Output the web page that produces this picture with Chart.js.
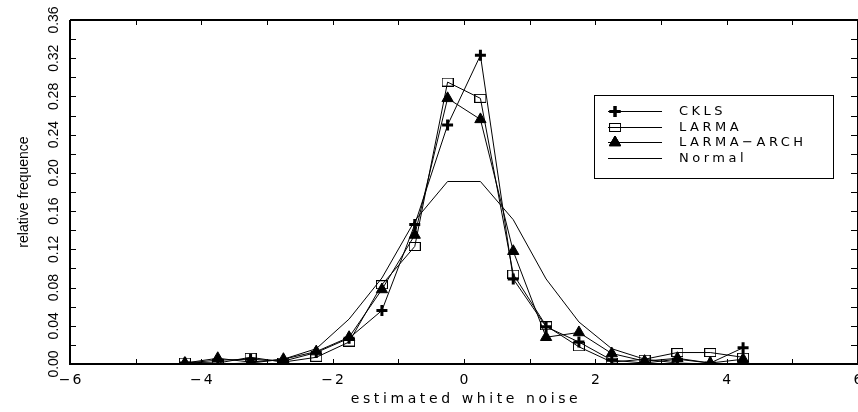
<!DOCTYPE html>
<html>
<head>
<meta charset="utf-8">
<script src="https://cdn.jsdelivr.net/npm/chart.js@4/dist/chart.umd.min.js"></script>
<style>
html,body{margin:0;padding:0;background:#fff;overflow:hidden;}
#wrap{width:858px;height:412px;overflow:hidden;}
#c{display:block;}
</style>
</head>
<body>
<div id="wrap"><canvas id="c" width="858" height="412"></canvas></div>
<script>
// ---- data ----
const binCenters = [-4.25,-3.75,-3.25,-2.75,-2.25,-1.75,-1.25,-0.75,-0.25,0.25,0.75,1.25,1.75,2.25,2.75,3.25,3.75,4.25];
const ckls      = [0.001,0.004,0.005,0.003,0.012,0.027,0.056,0.146,0.250,0.323,0.089,0.039,0.023,0.004,0.001,0.005,0.001,0.017];
const larma     = [0.002,0.001,0.007,0.002,0.007,0.023,0.083,0.123,0.295,0.278,0.094,0.040,0.018,0.002,0.005,0.012,0.012,0.007];
const larmaArch = [0.001,0.006,0.002,0.005,0.013,0.028,0.078,0.135,0.278,0.256,0.118,0.028,0.033,0.011,0.003,0.006,0.001,0.005];
const normal    = [0.000,0.000,0.001,0.005,0.016,0.047,0.090,0.150,0.191,0.191,0.151,0.089,0.044,0.016,0.005,0.001,0.000,0.000];
const seriesNames = ['CKLS','LARMA','LARMA\u2212ARCH','Normal'];
const xTickValues = [-6,-4,-2,0,2,4,6];
const yTickValues = [0,0.04,0.08,0.12,0.16,0.20,0.24,0.28,0.32,0.36];
const xTitle = 'estimated white noise';
const yTitle = 'relative frequence';

// open rectangle marker
function makeRectMarker(){
  const c = document.createElement('canvas');
  c.width = 12; c.height = 9;
  const g = c.getContext('2d');
  g.strokeStyle = '#000'; g.lineWidth = 1;
  g.strokeRect(0.5, 0.5, 11, 8);
  return c;
}
const rectMarker = makeRectMarker();

function pts(arr){ return binCenters.map((x,i)=>({x:x,y:arr[i]})); }

const styles = [
  {pointStyle:'cross', radius:5.5, bw:3},
  {pointStyle:rectMarker, radius:6, bw:1},
  {pointStyle:'triangle', radius:6.5, bw:1},
  {pointStyle:false, radius:0, bw:1}
];
const dataArrays = [ckls, larma, larmaArch, normal];

const datasets = dataArrays.map((arr,i)=>({
  label: seriesNames[i],
  data: pts(arr),
  borderColor:'#000',
  backgroundColor:'#000',
  borderWidth:1,
  pointStyle: styles[i].pointStyle,
  pointRadius: styles[i].radius,
  pointBorderWidth: styles[i].bw,
  pointBorderColor:'#000',
  pointBackgroundColor:'#000',
  tension:0,
  fill:false
}));

function setLS(ctx, v){ try { ctx.letterSpacing = v; } catch(e){} }

const decor = {
  id:'decor',
  afterDraw(chart){
    const ctx = chart.ctx, a = chart.chartArea;
    const xs = chart.scales.x, ys = chart.scales.y;
    ctx.save();
    ctx.strokeStyle = '#000';
    // ticks
    ctx.lineWidth = 1;
    ctx.beginPath();
    for (let k=0;k<=18;k++){
      const v = k*0.02;
      const py = Math.round(ys.getPixelForValue(v))+0.5;
      ctx.moveTo(a.left, py); ctx.lineTo(a.left+6, py);
      ctx.moveTo(a.right-7, py); ctx.lineTo(a.right, py);
    }
    for (let v=-6; v<=6; v++){
      const px = Math.round(xs.getPixelForValue(v))+0.5;
      ctx.moveTo(px, a.bottom); ctx.lineTo(px, a.bottom-5);
      ctx.moveTo(px, a.top); ctx.lineTo(px, a.top+5);
    }
    ctx.stroke();
    // frame
    ctx.lineWidth = 2;
    ctx.beginPath();
    ctx.moveTo(a.left, a.top); ctx.lineTo(a.right, a.top);
    ctx.moveTo(a.left, a.top); ctx.lineTo(a.left, a.bottom);
    ctx.moveTo(a.left-1, a.bottom); ctx.lineTo(a.right, a.bottom);
    ctx.moveTo(a.right, a.top); ctx.lineTo(a.right, a.bottom);
    ctx.stroke();

    ctx.fillStyle = '#000';
    // y tick labels (rotated)
    ctx.font = '14px "Liberation Sans", Arial, sans-serif';
    ctx.textAlign = 'center'; ctx.textBaseline = 'middle';
    yTickValues.forEach(v=>{
      const py = ys.getPixelForValue(v);
      ctx.save(); ctx.translate(54, py); ctx.rotate(-Math.PI/2);
      ctx.fillText(v.toFixed(2), 0, 0);
      ctx.restore();
    });
    // y title
    ctx.save(); ctx.translate(24, (a.top+a.bottom)/2); ctx.rotate(-Math.PI/2);
    ctx.font = '14px "Liberation Sans", Arial, sans-serif';
    ctx.fillText(yTitle, 0, 0);
    ctx.restore();
    // x tick labels
    ctx.font = '14px "DejaVu Sans", sans-serif';
    setLS(ctx, '2px');
    xTickValues.forEach(v=>{
      const px = xs.getPixelForValue(v);
      const t = v<0 ? '\u2212' + Math.abs(v) : String(v);
      ctx.fillText(t, px+1, a.bottom+16);
    });
    // x title
    setLS(ctx, '3.6px');
    ctx.fillText(xTitle, (a.left+a.right)/2 + 2, a.bottom+35);
    setLS(ctx, '0px');

    // legend (positioned in data coordinates)
    const lx0 = xs.getPixelForValue(1.98), lx1 = xs.getPixelForValue(5.62);
    const ly0 = ys.getPixelForValue(0.282), ly1 = ys.getPixelForValue(0.195);
    ctx.lineWidth = 1;
    ctx.strokeRect(Math.round(lx0)+0.5, Math.round(ly0)+0.5, Math.round(lx1-lx0), Math.round(ly1-ly0));
    const rowH = (ly1-ly0)/5.2;
    chart.data.datasets.forEach((ds,i)=>{
      const yy = Math.round(ly0 + rowH*(1+i))+0.5;
      const sx0 = lx0+14, sx1 = lx0+68;
      ctx.lineWidth = 1;
      ctx.strokeStyle = '#000';
      ctx.beginPath(); ctx.moveTo(sx0, yy); ctx.lineTo(sx1, yy); ctx.stroke();
      if (ds.pointStyle){
        ctx.lineWidth = ds.pointBorderWidth;
        ctx.fillStyle='#000'; ctx.strokeStyle='#000';
        Chart.helpers.drawPoint(ctx, {pointStyle: ds.pointStyle, radius: ds.pointRadius, borderWidth: ds.pointBorderWidth}, sx0+7, yy);
        if (ds.pointStyle==='triangle'){ ctx.fill(); ctx.stroke(); }
        else if (ds.pointStyle==='cross'){ ctx.stroke(); }
      }
      ctx.fillStyle = '#000';
      ctx.font = '13px "DejaVu Sans", sans-serif';
      setLS(ctx, '3.5px');
      ctx.textAlign = 'left'; ctx.textBaseline = 'middle';
      ctx.fillText(ds.label, lx0+85, yy+0.5);
      setLS(ctx, '0px');
    });
    ctx.restore();
  }
};

new Chart(document.getElementById('c'), {
  type:'line',
  data:{datasets:datasets},
  options:{
    responsive:false,
    animation:false,
    devicePixelRatio:1,
    layout:{autoPadding:false, padding:{left:70, top:20, right:0, bottom:48}},
    plugins:{legend:{display:false}, tooltip:{enabled:false}},
    scales:{
      x:{type:'linear', min:-6, max:6, display:false},
      y:{type:'linear', min:0, max:0.36, display:false}
    }
  },
  plugins:[decor]
});
</script>
</body>
</html>
